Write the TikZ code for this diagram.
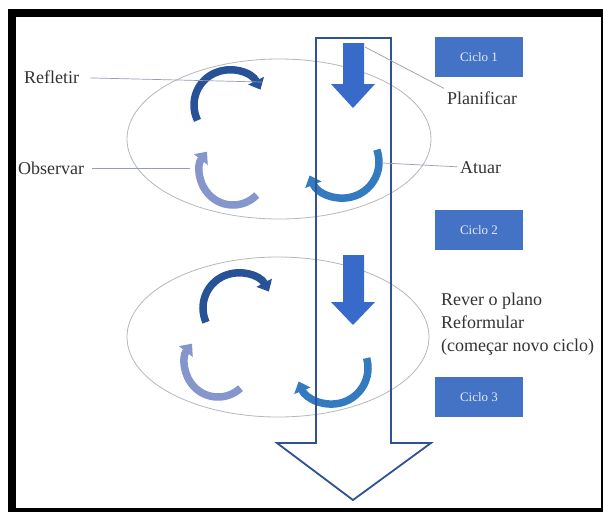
\documentclass[tikz,border=0pt]{standalone}
\usepackage{fontspec}
\setmainfont{Liberation Serif}
\usetikzlibrary{arrows.meta, positioning}

\definecolor{boxblue}{RGB}{68,114,196}
\definecolor{planblue}{RGB}{56,106,202}
\definecolor{shaftblue}{RGB}{47,82,146}
\definecolor{reflblue}{RGB}{40,82,152}
\definecolor{obsblue}{RGB}{132,150,204}
\definecolor{actblue}{RGB}{52,122,192}
\definecolor{leadgray}{RGB}{150,158,180}
\definecolor{ringgray}{RGB}{180,184,192}

\begin{document}
\begin{tikzpicture}[x=1pt, y=-1pt,
    txt/.style={font=\fontsize{18}{23}\selectfont, text=black!80, inner sep=3pt},
    ciclo/.style={fill=boxblue, text=white!85!boxblue, minimum width=88pt,
        minimum height=40pt, font=\fontsize{13}{15}\selectfont},
    leader/.style={draw=leadgray, line width=0.7pt},
    ring/.style={draw=ringgray, line width=0.8pt},
    cyclearc/.style={line width=7.5pt, -{Triangle[length=10pt, width=17pt]}}]
    \useasboundingbox (0,0) rectangle (603,512);

    % frame
    \fill (8,9) rectangle (603,512);
    \fill[white] (16,17) rectangle (601,508);

    % cycles
    \draw[ring] (279,139) ellipse [x radius=152, y radius=80];
    \draw[ring] (278,337) ellipse [x radius=151, y radius=80];

    \draw[cyclearc, reflblue] (229,105) ++(154:35) arc [start angle=154, end angle=334, radius=35];
    \draw[cyclearc, obsblue] (233,172) ++(44:33) arc [start angle=44, end angle=218, radius=33];
    \draw[cyclearc, actblue] (343,162) ++(-20:36) arc [start angle=-20, end angle=158, radius=36];

    \draw[cyclearc, reflblue] (238,308) ++(156:35) arc [start angle=156, end angle=332, radius=35];
    \draw[cyclearc, obsblue] (218,364) ++(47:33) arc [start angle=47, end angle=218, radius=33];
    \draw[cyclearc, actblue] (332,368) ++(-16:36) arc [start angle=-16, end angle=158, radius=36];

    % big arrow
    \draw[shaftblue, line width=1.8pt, line join=miter]
        (316,38) -- (391,38) -- (391,443) -- (431,443) -- (353,500)
        -- (277,443) -- (316,443) -- cycle;

    \fill[planblue] (343,43) -- (364,43) -- (364,84) -- (375,84) -- (353,108)
        -- (331,84) -- (343,84) -- cycle;
    \fill[planblue] (343,255) -- (364,255) -- (364,302) -- (375,302) -- (353,325)
        -- (331,302) -- (343,302) -- cycle;

    \node[ciclo] (c1) at (479,57) {Ciclo 1};
    \node[ciclo] (c2) at (479,230) {Ciclo 2};
    \node[ciclo] (c3) at (479,397) {Ciclo 3};

    \node[txt, anchor=west] (refletir) at (21,77) {Refletir};
    \node[txt, anchor=west] (observar) at (15,168) {Observar};
    \node[txt, anchor=west] (planificar) at (444,98) {Planificar};
    \node[txt, anchor=west] (atuar) at (457,168) {Atuar};
    \node[txt, anchor=west, align=left] (rever) at (438,324)
        {Rever o plano\\Reformular\\(começar novo ciclo)};

    \coordinate (rp) at (262,82);
    \coordinate (op) at (190,168);
    \coordinate (ap) at (383,163);
    \coordinate (pp) at (365,47);

    \draw[leader, shorten <=8pt] (refletir) -- (rp);
    \draw[leader, shorten <=5pt] (observar) -- (op);
    \draw[leader] (ap) -- (atuar);
    \draw[leader] (pp) -- (planificar.north west);
\end{tikzpicture}
\end{document}
